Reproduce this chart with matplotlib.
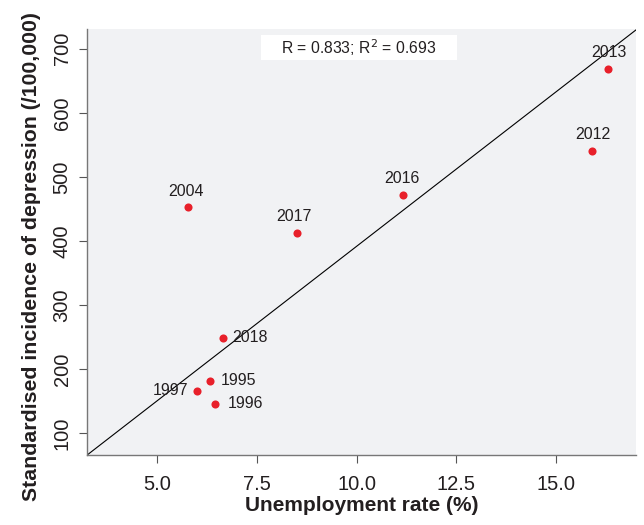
import matplotlib.pyplot as plt
from matplotlib.patches import Rectangle

plt.rcParams['font.family'] = ['Liberation Sans', 'DejaVu Sans']

# data
years = ['2013', '2012', '2016', '2017', '2004', '2018', '1995', '1997', '1996']
unemployment = [16.3, 15.9, 11.15, 8.5, 5.78, 6.65, 6.33, 6.0, 6.45]
depression = [669, 541, 472, 413, 453, 248, 181, 166, 145]
# label offsets in points (dx, dy) and alignment
label_pos = {
    '2013': (-12, 6, 'left'),
    '2012': (-12, 6, 'left'),
    '2016': (-13, 6, 'left'),
    '2017': (-15, 6, 'left'),
    '2004': (-14, 6, 'left'),
    '2018': (7, -5, 'left'),
    '1995': (8, -5, 'left'),
    '1997': (-6, -5, 'right'),
    '1996': (9, -5, 'left'),
}

fig = plt.figure(figsize=(6.44, 5.25), dpi=100)
ax = fig.add_axes([0.135, 0.133, 0.853, 0.812])
ax.set_facecolor('#f1f2f4')

ax.scatter(unemployment, depression, s=34, color='#e8202a', zorder=3, linewidths=0)
for yr, xv, yv in zip(years, unemployment, depression):
    dx, dy, ha = label_pos[yr]
    ax.annotate(yr, (xv, yv), xytext=(dx, dy), textcoords='offset points',
                ha=ha, va='bottom', fontsize=11.5, color='#231f20')

# fitted line
ax.axline((3.25, 65.6), slope=48.3, color='black', lw=0.8, zorder=2)

ax.add_patch(Rectangle((0.317, 0.927), 0.357, 0.059, transform=ax.transAxes,
                       facecolor='white', edgecolor='none', zorder=4))
ax.text(0.495, 0.957, r'R = 0.833; R$^2$ = 0.693', transform=ax.transAxes,
        ha='center', va='center', fontsize=11.3, color='#231f20', zorder=5)

ax.set_xlim(3.25, 17)
ax.set_ylim(65.6, 731)
ax.set_xticks([5.0, 7.5, 10.0, 12.5, 15.0])
ax.set_xticklabels(['5.0', '7.5', '10.0', '12.5', '15.0'])
ax.set_yticks([100, 200, 300, 400, 500, 600, 700])
ax.tick_params(axis='both', labelsize=14.5, colors='#231f20', length=6, width=0.8,
               direction='out')
ax.tick_params(axis='x', pad=8)
ax.tick_params(axis='y', pad=5)
for lab in ax.get_yticklabels():
    lab.set_rotation(90)
    lab.set_va('center')
ax.tick_params(axis='both', color='#555555')
for s in ['top', 'right']:
    ax.spines[s].set_visible(False)
for s in ['left', 'bottom']:
    ax.spines[s].set_color('#777777')
    ax.spines[s].set_linewidth(1.0)

ax.set_xlabel('Unemployment rate (%)', fontsize=15, fontweight='bold',
              color='#231f20', labelpad=2)
ax.set_ylabel('Standardised incidence of depression (/100,000)', fontsize=15.3,
              fontweight='bold', color='#231f20')
ax.yaxis.set_label_coords(-0.084, 0.467)

fig.savefig('out.png', dpi=100)
